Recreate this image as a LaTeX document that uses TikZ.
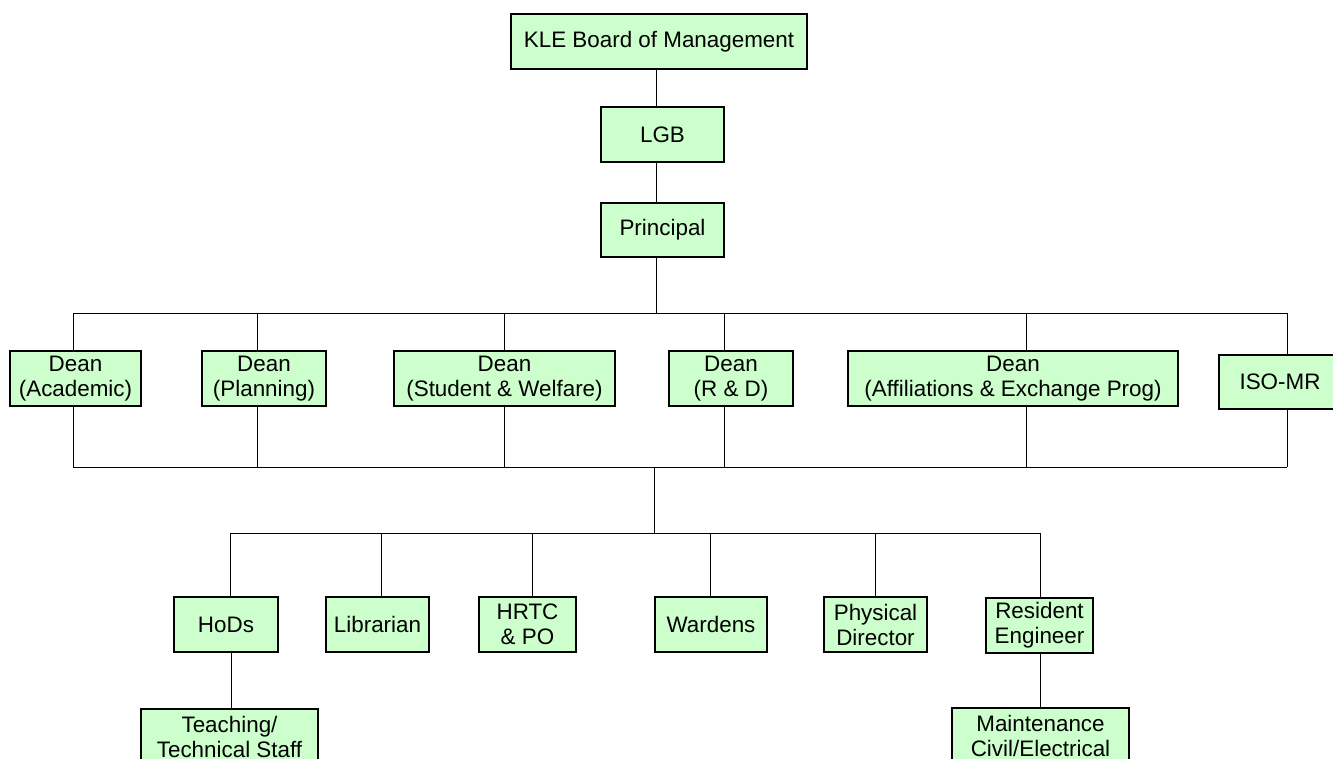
\documentclass[tikz,border=0pt]{standalone}
\usepackage{fontspec}
\setmainfont{Liberation Sans}
\definecolor{boxgreen}{HTML}{CCFFCC}
\begin{document}
\begin{tikzpicture}[x=0.75pt,y=-0.75pt,
  box/.style={draw=black, fill=boxgreen, line width=0.8pt, inner sep=0pt,
    align=center, font=\fontsize{16.8}{18.75}\selectfont, minimum height=41.25pt},
  link/.style={draw=black, line width=0.75pt}]
\useasboundingbox (0,0) rectangle (1333,758);
\clip (0,0) rectangle (1333,758);
% top chain
\node[box, minimum width=222pt] (kle) at (659,41.5) {KLE Board of Management};
\node[box, minimum width=92.25pt] (lgb) at (662.5,134.5) {LGB};
\node[box, minimum width=92.25pt, minimum height=40.5pt] (prin) at (662.5,230) {Principal};
% deans
\node[box, minimum width=98.25pt] (dacad) at (75.5,378.5) {Dean\\(Academic)};
\node[box, minimum width=93pt] (dplan) at (264,378.5) {Dean\\(Planning)};
\node[box, minimum width=165.75pt] (dstud) at (504.5,378.5) {Dean\\(Student \& Welfare)};
\node[box, minimum width=93pt] (drd) at (731,378.5) {Dean\\(R \& D)};
\node[box, minimum width=247.5pt] (daff) at (1013,378.5) {Dean\\(Affiliations \& Exchange Prog)};
\node[box, minimum width=91.5pt, minimum height=40.5pt] (iso) at (1280,382) {ISO-MR};
% lower row
\node[box, minimum width=78pt] (hods) at (226,624.5) {HoDs};
\node[box, minimum width=77.25pt] (lib) at (377.5,624.5) {Librarian};
\node[box, minimum width=72.75pt] (hrtc) at (527.5,624.5) {HRTC\\\& PO};
\node[box, minimum width=84pt] (ward) at (711,624.5) {Wardens};
\node[box, minimum width=77.25pt] (phys) at (875.5,624.5) {Physical\\Director};
\node[box, minimum width=80.25pt] (res) at (1039.5,625.5) {Resident\\Engineer};
\node[box, minimum width=132.75pt] (teach) at (229.5,736.5) {Teaching/\\Technical Staff};
\node[box, minimum width=132.75pt] (maint) at (1040.5,735.5) {Maintenance\\Civil/Electrical};
% bus coordinates
\coordinate (topbusL) at (73,313);
\coordinate (topbusR) at (1287,313);
\coordinate (topbusP) at (656,313);
\coordinate (lowbusL) at (73,467);
\coordinate (lowbusR) at (1287,467);
\coordinate (lowbusP) at (654,467);
\coordinate (botbusP) at (654,533);
\coordinate (botbusL) at (230,533);
\coordinate (botbusR) at (1040,533);
% connectors
\draw[link] (656,0 |- kle.south) -- (656,0 |- lgb.north);
\draw[link] (656,0 |- lgb.south) -- (656,0 |- prin.north);
\draw[link] (656,0 |- prin.south) -- (topbusP);
\draw[link] (topbusL) -- (topbusR);
\draw[link] (lowbusL) -- (lowbusR);
\foreach \n/\x in {dacad/73, dplan/257, dstud/504, drd/724, daff/1026, iso/1287}{
  \draw[link] (\x,313) -- (\x,0 |- \n.north);
  \draw[link] (\x,0 |- \n.south) -- (\x,467);
}
\draw[link] (lowbusP) -- (botbusP);
\draw[link] (botbusL) -- (botbusR);
\foreach \n/\x in {hods/230, lib/381, hrtc/532, ward/710, phys/875, res/1040}{
  \draw[link] (\x,533) -- (\x,0 |- \n.north);
}
\draw[link] (231,0 |- hods.south) -- (231,0 |- teach.north);
\draw[link] (1040,0 |- res.south) -- (1040,0 |- maint.north);
\end{tikzpicture}
\end{document}
